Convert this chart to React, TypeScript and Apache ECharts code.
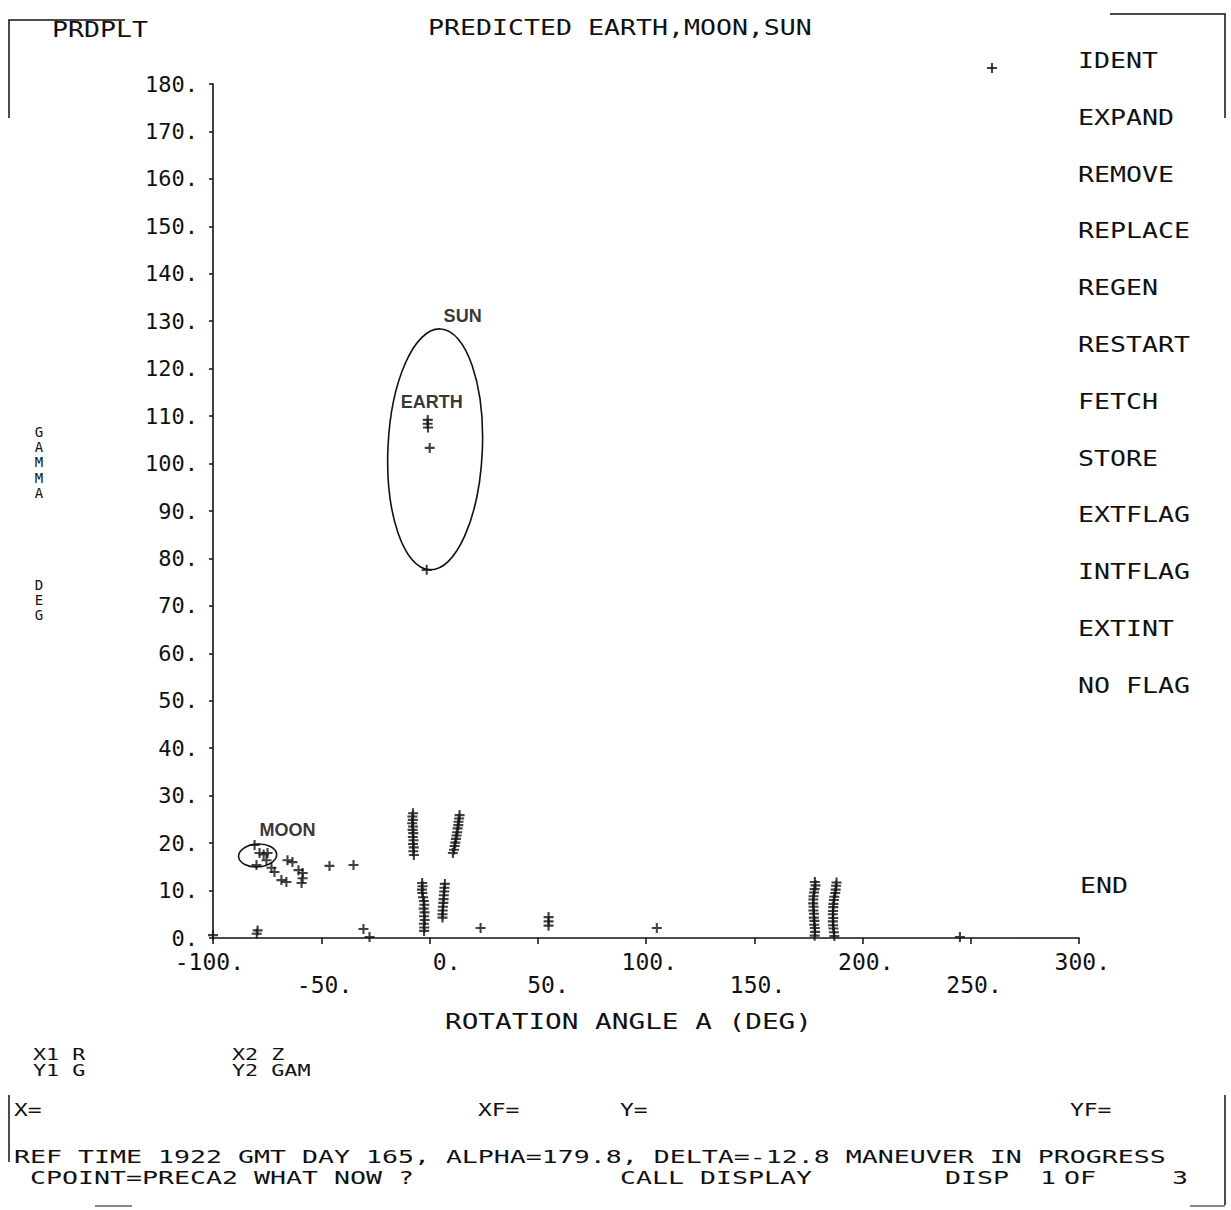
import React, { useEffect, useRef } from 'react';
import * as echarts from 'echarts';

// ---------- data ----------
const xRange = [-100, 300];
const xStep = 50;
const yRange = [0, 180];
const yStep = 10;

const moonPoints = [
  [-80.8, 19.6], [-78.5, 17.9], [-76.6, 17.6], [-74.8, 17.9], [-79.9, 15.4], [-75.3, 16.4],
  [-73.0, 14.8], [-71.6, 13.9], [-68.4, 12.2], [-66.1, 11.8], [-65.6, 16.4], [-63.3, 16.0],
  [-60.5, 14.3], [-58.6, 13.7], [-58.6, 12.6], [-59.1, 11.6], [-46.2, 15.2], [-35.1, 15.4],
];
const clusterA = [
  [-7.6, 26.3], [-7.9, 25.6], [-7.7, 24.9], [-8.0, 24.2], [-7.6, 23.5], [-7.8, 22.8], [-7.5, 22.1],
  [-7.7, 21.3], [-7.4, 20.6], [-7.6, 19.8], [-7.3, 19.1], [-7.5, 18.3], [-7.2, 17.5],
];
const clusterB = [
  [13.9, 25.9], [13.7, 25.2], [13.4, 24.5], [13.3, 23.8], [13.0, 23.1], [12.8, 22.3],
  [12.5, 21.6], [12.2, 20.9], [11.9, 20.1], [11.6, 19.4], [11.3, 18.6], [10.8, 17.9],
];
const clusterC = [
  [-3.4, 11.6], [-3.2, 10.9], [-3.5, 10.2], [-3.3, 9.5], [-3.0, 8.6], [-2.6, 7.8], [-2.4, 7.0],
  [-2.7, 6.2], [-2.3, 5.4], [-2.5, 4.6], [-2.2, 3.8], [-2.6, 3.0], [-2.4, 2.2], [-2.5, 1.5],
];
const clusterD = [
  [7.1, 11.4], [6.9, 10.6], [6.8, 9.8], [6.6, 9.0], [6.5, 8.2], [6.4, 7.4], [6.2, 6.6],
  [6.1, 5.8], [6.0, 5.0], [6.0, 4.3],
];
const clusterE = [
  [178.0, 11.8], [178.3, 11.1], [177.9, 10.3], [177.6, 9.6], [177.4, 8.8], [177.3, 8.1],
  [177.2, 7.3], [177.4, 6.6], [177.3, 5.8], [177.6, 5.1], [177.5, 4.3], [177.8, 3.6],
  [177.7, 2.8], [178.0, 2.1], [178.1, 1.3], [177.9, 0.5],
];
const clusterF = [
  [188.0, 11.7], [187.8, 11.0], [187.6, 10.2], [187.4, 9.5], [187.0, 8.7], [186.8, 8.0],
  [186.6, 7.2], [186.5, 6.5], [186.4, 5.7], [186.3, 5.0], [186.5, 4.2], [186.3, 3.5],
  [186.4, 2.7], [186.6, 2.0], [186.8, 1.2], [187.0, 0.4],
];
const earthPoints = [[-0.8, 109.2], [-0.9, 108.4], [-0.7, 107.6], [0.1, 103.3]];
const sunPoints = [[-1.3, 77.6]];
const loosePoints = [
  [-100, 0.6], [-79.4, 1.6], [-79.8, 0.9], [-30.5, 1.9], [-27.7, 0.2], [23.6, 2.1],
  [55, 4.4], [55, 3.5], [55, 2.6], [105, 2.1], [245, 0.2],
];
// ellipse outlines: [centre x, centre y, half-width (deg), half-height (deg), tilt (deg, clockwise)]
const sunEllipse = [2.6, 103.0, 21.8, 25.4, 2.5];
const moonEllipse = [-79.4, 17.4, 8.8, 2.4, -4];
const bodyLabels = [
  { name: 'SUN', value: [15.3, 131.1] },
  { name: 'EARTH', value: [1.0, 113.0] },
  { name: 'MOON', value: [-65.6, 22.8] },
];

const titleLeft = 'PRDPLT';
const titleMain = 'PREDICTED EARTH,MOON,SUN';
const menuItems = ['IDENT', 'EXPAND', 'REMOVE', 'REPLACE', 'REGEN', 'RESTART', 'FETCH', 'STORE', 'EXTFLAG', 'INTFLAG', 'EXTINT', 'NO FLAG'];
const menuEnd = 'END';
const xAxisTitle = 'ROTATION ANGLE A (DEG)';
const yAxisTitle = 'G\nA\nM\nM\nA\n\n\n\n\n\nD\nE\nG';
const footerVars = ['X1 R', 'Y1 G', 'X2 Z', 'Y2 GAM'];
const footerFields = ['X=', 'XF=', 'Y=', 'YF='];
const statusLine = 'REF TIME 1922 GMT DAY 165, ALPHA=179.8, DELTA=-12.8 MANEUVER IN PROGRESS';
const promptParts = ['CPOINT=PRECA2 WHAT NOW ?', 'CALL DISPLAY', 'DISP', '1', 'OF', '3'];

// ---------- styling ----------
const MONO = '"DejaVu Sans Mono", monospace';
const SANS = '"Liberation Sans", Arial, sans-serif';
const PLUS = 'path://M0 5H10M5 0V10';
const INK = '#111';

function txt(text: string, x: number, y: number, fs = 21, sx = 1.266, extra: any = {}) {
  return {
    type: 'text',
    x,
    y,
    scaleX: sx,
    silent: true,
    style: {
      text,
      fontFamily: MONO,
      fontSize: fs,
      fill: INK,
      align: 'left',
      verticalAlign: 'middle',
      ...extra,
    },
  };
}

function line(points: number[][], w = 1.5) {
  return {
    type: 'polyline',
    silent: true,
    shape: { points },
    style: { stroke: INK, lineWidth: w, fill: 'none' },
  };
}

function plusSeries(name: string, data: number[][]) {
  return {
    name,
    type: 'scatter',
    data,
    symbol: PLUS,
    symbolSize: 10,
    itemStyle: { color: 'rgba(0,0,0,0)', borderColor: INK, borderWidth: 2.1 },
    emphasis: { disabled: true },
    z: 3,
  };
}

function ellipseRender(params: any, api: any) {
  const c = api.coord([api.value(0), api.value(1)]);
  const s = api.size([api.value(2), api.value(3)]);
  return {
    type: 'ellipse',
    x: c[0],
    y: c[1],
    rotation: (-api.value(4) * Math.PI) / 180,
    shape: { cx: 0, cy: 0, rx: s[0], ry: s[1] },
    style: { fill: 'none', stroke: INK, lineWidth: 1.6 },
  };
}

export default function App() {
  const ref = useRef<HTMLDivElement>(null);

  useEffect(() => {
    if (!ref.current) return;
    const chart = echarts.init(ref.current, undefined, { renderer: 'svg' });

    const graphics: any[] = [];
    // frame fragments
    graphics.push(line([[9, 118], [9, 20], [125, 20]]));
    graphics.push(line([[1110, 14], [1225, 14], [1225, 118]]));
    graphics.push(line([[9, 1095], [9, 1162]]));
    graphics.push(line([[1225, 1095], [1225, 1205]]));
    graphics.push(line([[95, 1206], [132, 1206]], 1));
    graphics.push(line([[1190, 1206], [1225, 1206]], 1));
    // tracking cursor
    graphics.push(line([[987, 68], [997, 68]], 1.6));
    graphics.push(line([[992, 63], [992, 73]], 1.6));
    // header
    graphics.push(txt(titleLeft, 52, 30));
    graphics.push(txt(titleMain, 428, 28));
    // menu
    menuItems.forEach((m, i) => graphics.push(txt(m, 1078, 61 + i * 56.8)));
    graphics.push(txt(menuEnd, 1080, 886));
    // axis titles
    graphics.push(txt(xAxisTitle, 445, 1022, 21, 1.32));
    graphics.push({
      type: 'text',
      x: 39,
      y: 424,
      silent: true,
      style: {
        text: yAxisTitle,
        fontFamily: MONO,
        fontSize: 14,
        lineHeight: 15.3,
        fill: INK,
        align: 'center',
        verticalAlign: 'top',
      },
    });
    // footer
    graphics.push(txt(footerVars[0], 33, 1055, 15, 1.45));
    graphics.push(txt(footerVars[1], 33, 1071, 15, 1.45));
    graphics.push(txt(footerVars[2], 232, 1055, 15, 1.45));
    graphics.push(txt(footerVars[3], 232, 1071, 15, 1.45));
    const fieldX = [14, 478, 620, 1070];
    footerFields.forEach((f, i) => graphics.push(txt(f, fieldX[i], 1110, 17, 1.35)));
    graphics.push(txt(statusLine, 14, 1157, 18, 1.477));
    const promptX = [30, 620, 945, 1040, 1064, 1172];
    promptParts.forEach((p, i) => graphics.push(txt(p, promptX[i], 1178, 18, 1.477)));

    chart.setOption({
      animation: false,
      backgroundColor: '#fff',
      grid: { left: 213, right: 152, top: 84, bottom: 272, containLabel: false },
      xAxis: {
        type: 'value',
        min: xRange[0],
        max: xRange[1],
        interval: xStep,
        splitLine: { show: false },
        axisLine: { show: true, onZero: false, lineStyle: { color: INK, width: 1.6 } },
        axisTick: { show: true, length: 6, lineStyle: { color: INK, width: 1.5 } },
        axisLabel: {
          interval: 0,
          color: INK,
          fontFamily: MONO,
          fontSize: 23,
          lineHeight: 23,
          margin: 12,
          align: 'right',
          padding: [0, -31, 0, 0],
          formatter: (v: number) => (v % 100 === 0 ? '' : '\n') + v + '.',
        },
      },
      yAxis: {
        type: 'value',
        min: yRange[0],
        max: yRange[1],
        interval: yStep,
        splitLine: { show: false },
        axisLine: { show: true, onZero: false, lineStyle: { color: INK, width: 1.6 } },
        axisTick: { show: true, length: 4, lineStyle: { color: INK, width: 1.5 } },
        axisLabel: {
          color: INK,
          fontFamily: MONO,
          fontSize: 22,
          margin: 15,
          formatter: (v: number) => v + '.',
        },
      },
      series: [
        plusSeries('moon', moonPoints),
        plusSeries('a', clusterA),
        plusSeries('b', clusterB),
        plusSeries('c', clusterC),
        plusSeries('d', clusterD),
        plusSeries('e', clusterE),
        plusSeries('f', clusterF),
        plusSeries('earth', earthPoints),
        plusSeries('sun', sunPoints),
        plusSeries('loose', loosePoints),
        {
          type: 'custom',
          renderItem: ellipseRender,
          data: [sunEllipse, moonEllipse],
          encode: { x: 0, y: 1 },
          clip: false,
          silent: true,
          z: 2,
        },
        {
          type: 'scatter',
          data: bodyLabels,
          symbol: 'circle',
          symbolSize: 1,
          itemStyle: { color: 'rgba(0,0,0,0)' },
          silent: true,
          label: {
            show: true,
            position: 'inside',
            formatter: '{b}',
            color: '#000',
            fontFamily: SANS,
            fontWeight: 'bold',
            fontSize: 18,
          },
          z: 4,
        },
      ],
      graphic: graphics,
    });

    return () => chart.dispose();
  }, []);

  return (
    <div
      ref={ref}
      style={{ position: 'absolute', left: 0, top: 0, width: 1231, height: 1210, background: '#fff' }}
    />
  );
}
